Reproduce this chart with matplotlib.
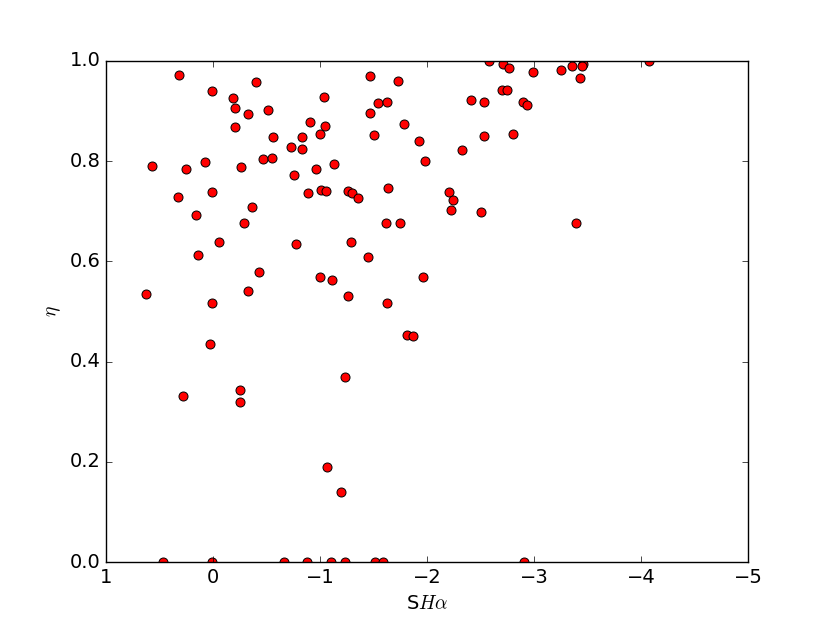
import matplotlib
matplotlib.use("Agg")
import matplotlib.pyplot as plt

# SHalpha (x) and eta (y)
sha = [0.318, -0.405, 0.012, -0.184, -0.206, -0.327, -0.517, -0.206, -0.564, -0.726,
       -0.464, -0.548, 0.567, 0.255, 0.075, -0.265, -0.757, 0.327, 0.012, -0.364,
       0.156, -0.287, -0.056, -0.776, 0.137, -0.427, 0.626, -0.327, 0.012,
       -1.467, -1.726, -1.037, -1.539, -1.629, -1.467, -0.909, -1.047, -0.829, -0.997,
       -1.502, -1.788, -1.928, -1.981, -2.330, -2.408, -2.530, -2.530, -2.801, -2.701,
       -2.745, -2.579, -2.710, -2.763, -0.829, -0.960, -1.128, -0.888, -1.006, -1.059,
       -1.265, -1.296, -1.358, -1.639, -2.203, -2.243, -2.221, -2.502, -1.617, -1.751,
       -1.290, -1.449, -0.997, -1.109, -1.959, -1.262, -1.629,
       -2.994, -3.252, -3.352, -3.455, -3.452, -3.433, -4.075, -2.897, -2.931, -3.393,
       -1.813, -1.869, 0.025, 0.284, -0.255, -0.255, -1.237, -1.069, -1.199,
       0.467, 0.012, -0.664, -0.875, -1.106, -1.237, -1.517, -1.592, -2.903]
eta = [0.972, 0.959, 0.941, 0.926, 0.906, 0.894, 0.902, 0.868, 0.848, 0.828,
       0.804, 0.807, 0.790, 0.784, 0.798, 0.788, 0.772, 0.728, 0.739, 0.708,
       0.693, 0.677, 0.638, 0.635, 0.613, 0.578, 0.535, 0.540, 0.516,
       0.970, 0.961, 0.929, 0.916, 0.918, 0.896, 0.878, 0.870, 0.848, 0.855,
       0.853, 0.874, 0.840, 0.800, 0.822, 0.922, 0.918, 0.850, 0.854, 0.942,
       0.942, 1.000, 0.993, 0.985, 0.824, 0.785, 0.794, 0.737, 0.742, 0.740,
       0.740, 0.736, 0.727, 0.746, 0.738, 0.723, 0.702, 0.698, 0.677, 0.677,
       0.639, 0.609, 0.569, 0.563, 0.568, 0.530, 0.516,
       0.977, 0.981, 0.990, 0.994, 0.990, 0.967, 1.000, 0.918, 0.913, 0.677,
       0.454, 0.452, 0.435, 0.331, 0.343, 0.319, 0.369, 0.190, 0.140,
       0.0, 0.0, 0.0, 0.0, 0.0, 0.0, 0.0, 0.0, 0.0]

plt.style.use("classic")
plt.rcParams["font.size"] = 14
fig = plt.figure(figsize=(8.3, 6.26), dpi=100)
fig.patch.set_facecolor("white")
ax = fig.add_axes([0.1277, 0.1022, 0.7735, 0.8004])

ax.plot(sha, eta, "o", color="red", markeredgecolor="black", markersize=6.5, markeredgewidth=0.7)

ax.set_xlim(1, -5)
ax.set_ylim(0, 1)
ax.set_xlabel(r"S$H\alpha$")
ax.set_ylabel(r"$\eta$")

fig.savefig("out.png", dpi=100)
